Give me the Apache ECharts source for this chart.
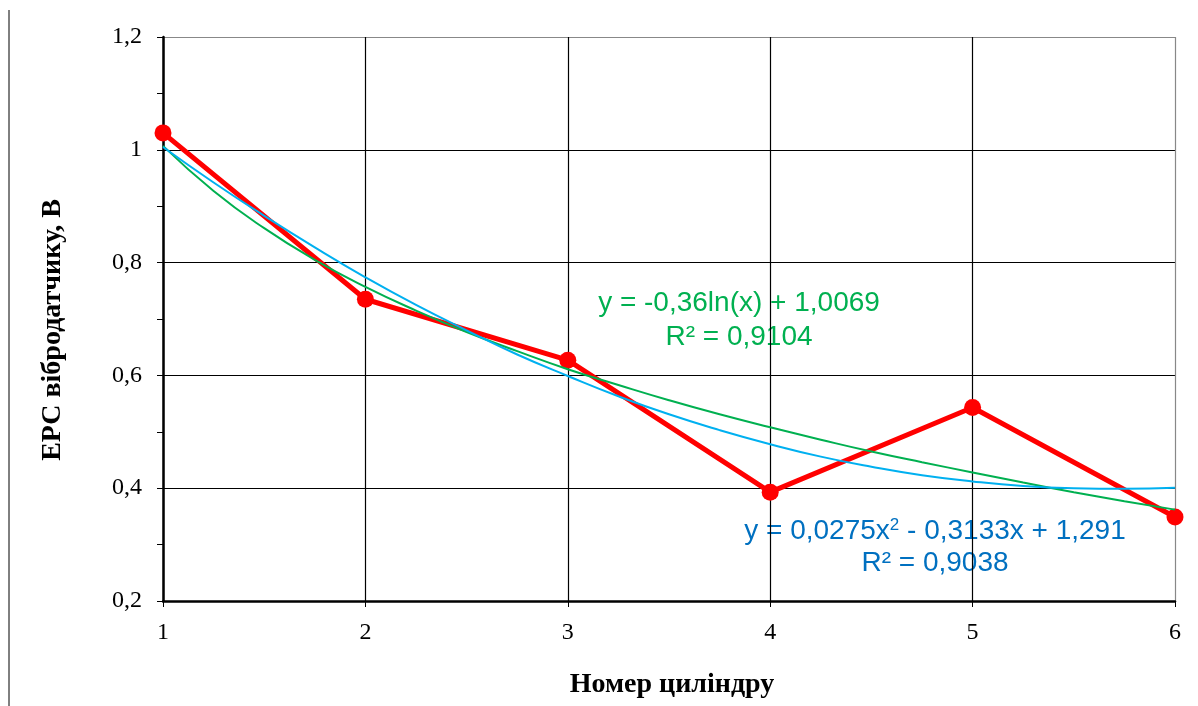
<!DOCTYPE html>
<html>
<head>
<meta charset="utf-8">
<script src="https://cdn.jsdelivr.net/npm/echarts@6/dist/echarts.min.js"></script>
<style>
  html, body { margin: 0; padding: 0; background: #fff; }
  #chart { width: 1198px; height: 706px; }
</style>
</head>
<body>
<div id="chart"></div>
<script>
  // номер циліндра та виміряна ЕРС
  const cylinders = [1, 2, 3, 4, 5, 6];
  const emf = [1.03, 0.735, 0.627, 0.393, 0.543, 0.349];

  // лінії тренду
  const trendX = [1, 1.25, 1.5, 1.75, 2, 2.25, 2.5, 2.75, 3, 3.25, 3.5, 3.75, 4, 4.25, 4.5, 4.75, 5, 5.25, 5.5, 5.75, 6];
  const logTrend = [1.007, 0.927, 0.861, 0.805, 0.757, 0.715, 0.677, 0.643, 0.611, 0.583, 0.556, 0.531, 0.508, 0.486, 0.465, 0.446, 0.428, 0.410, 0.393, 0.377, 0.362];
  const polyTrend = [1.005, 0.942, 0.883, 0.827, 0.774, 0.725, 0.680, 0.637, 0.599, 0.563, 0.531, 0.503, 0.478, 0.456, 0.438, 0.423, 0.412, 0.404, 0.400, 0.399, 0.401];

  const yTicks = ["0,2", "0,4", "0,6", "0,8", "1", "1,2"];

  const pairs = (xs, ys) => xs.map((x, i) => [x, ys[i]]);

  const chart = echarts.init(document.getElementById("chart"));
  const serif = "Liberation Serif";
  const sans = "Liberation Sans";

  const note = (x, y, text, color) => ({
    type: "text", x: x, y: y,
    style: { text: text, fill: color, fontFamily: sans, fontSize: 28, align: "center", verticalAlign: "middle" }
  });

  chart.setOption({
    animation: false,
    grid: { left: 163, right: 23, top: 37, bottom: 105 },
    xAxis: {
      type: "value",
      min: 1,
      max: 6,
      interval: 1,
      axisLine: { lineStyle: { color: "#000", width: 2.5 } },
      axisTick: { show: true, length: 6, lineStyle: { color: "#000", width: 1 } },
      axisLabel: { color: "#000", fontFamily: serif, fontSize: 24, margin: 20 },
      splitLine: { show: true, lineStyle: { color: ["#000", "#000", "#000", "#000", "#000", "#888"], width: 1.2 } },
      name: "Номер циліндру",
      nameLocation: "middle",
      nameGap: 70,
      nameTextStyle: { color: "#000", fontFamily: serif, fontSize: 28, fontWeight: "bold", padding: [0, 0, 0, 6] }
    },
    yAxis: {
      type: "value",
      min: 0.2,
      max: 1.2,
      interval: 0.2,
      axisLine: { show: true, lineStyle: { color: "#000", width: 2.5 } },
      axisTick: { show: true, length: 6, lineStyle: { color: "#000", width: 1 } },
      minorTick: { show: true, splitNumber: 2, length: 6, lineStyle: { color: "#000", width: 1 } },
      axisLabel: {
        color: "#000", fontFamily: serif, fontSize: 24, margin: 21,
        formatter: (v) => yTicks[Math.round((v - 0.2) / 0.2)]
      },
      splitLine: { show: true, lineStyle: { color: ["#000", "#000", "#000", "#000", "#000", "#888"], width: 1.2 } }
    },
    series: [
      {
        name: "log",
        type: "line",
        data: pairs(trendX, logTrend),
        smooth: true,
        showSymbol: false,
        lineStyle: { color: "#00B050", width: 2 },
        z: 3
      },
      {
        name: "poly",
        type: "line",
        data: pairs(trendX, polyTrend),
        smooth: true,
        showSymbol: false,
        lineStyle: { color: "#00B0F0", width: 2 },
        z: 3
      },
      {
        name: "ЕРС",
        type: "line",
        data: pairs(cylinders, emf),
        symbol: "circle",
        symbolSize: 17,
        itemStyle: { color: "#FF0000" },
        lineStyle: { color: "#FF0000", width: 5 },
        z: 2
      }
    ],
    graphic: [
      { type: "line", shape: { x1: 9, y1: 10, x2: 9, y2: 706 }, style: { stroke: "#000", lineWidth: 1 } },
      // підпис осі Y
      {
        type: "text", x: 53, y: 330, rotation: Math.PI / 2,
        style: { text: "ЕРС вібродатчику, В", fill: "#000", fontFamily: serif, fontSize: 28, fontWeight: "bold", align: "center", verticalAlign: "middle" }
      },
      note(739, 303, "y = -0,36ln(x) + 1,0069", "#00B050"),
      note(739, 337, "R² = 0,9104", "#00B050"),
      {
        type: "text", x: 935, y: 531,
        style: {
          rich: {
            b: { fill: "#0070C0", fontFamily: sans, fontSize: 28 },
            s: { fill: "#0070C0", fontFamily: sans, fontSize: 17, padding: [0, 0, 12, 0] }
          },
          text: "{b|y = 0,0275x}{s|2}{b| - 0,3133x + 1,291}", align: "center", verticalAlign: "middle"
        }
      },
      note(935, 563, "R² = 0,9038", "#0070C0")
    ]
  });
</script>
</body>
</html>
